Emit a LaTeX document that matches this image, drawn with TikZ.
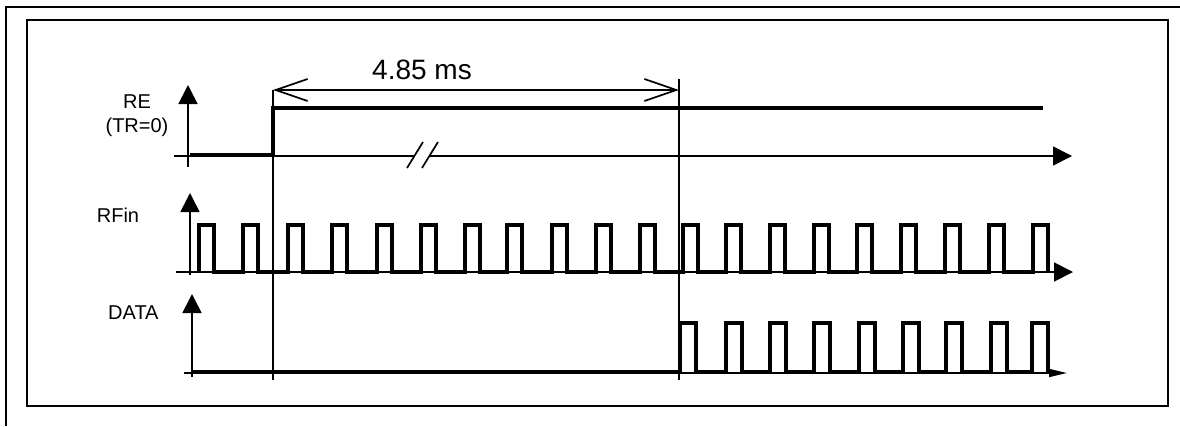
\documentclass[tikz,border=0pt]{standalone}
\usepackage{fontspec}
\setmainfont{Liberation Sans}
\usetikzlibrary{arrows.meta}
\begin{document}
\begin{tikzpicture}[x=1pt,y=-1pt,
  frame/.style={line width=2pt},
  axis/.style={line width=1.7pt,-{Triangle[length=19pt,width=19pt]}},
  thinaxis/.style={line width=1.7pt,-{Triangle[length=18pt,width=8pt]}},
  sig/.style={line width=4pt,line join=miter,line cap=butt},
  marker/.style={line width=1.7pt},
  dim/.style={line width=1.5pt,{Straight Barb[length=32pt,width=22pt,line width=1.7pt]}-{Straight Barb[length=32pt,width=22pt,line width=1.7pt]}},
  lbl/.style={font=\fontsize{20}{24}\selectfont,inner sep=0pt},
  biglbl/.style={font=\fontsize{28}{32}\selectfont,inner sep=0pt}]
\useasboundingbox (0,0) rectangle (1180,426);
% frames
\draw[frame] (6,426) -- (6,7) -- (1180,7);
\draw[frame] (27,19.5) rectangle (1168,406);
% coordinates
\coordinate (t0) at (273,90);
\coordinate (t1) at (679,90);
% labels
\node[lbl] (re) at (137,102) {RE};
\node[lbl] (tr) at (137,127) {(TR=0)};
\node[lbl] (rfin) at (118,215) {RFin};
\node[lbl,anchor=west] (data) at (108,313) {DATA};
% RE axis
\coordinate (reO) at (188,167);
\coordinate (reT) at (188,85);
\draw[axis] (reO) -- (reT);
\coordinate (reL) at (174,156);
\coordinate (reB1) at (415,156);
\coordinate (reB2) at (430,156);
\coordinate (reE) at (1072,156);
\draw[marker] (reL) -- (reB1);
\draw[axis] (reB2) -- (reE);
\draw[line width=1.7pt] (407,168) -- (423,142) (422,168) -- (438,142);
\draw[sig] (190,155) -- (273,155) -- (273,108) -- (1043,108);
% RFin axis
\draw[axis] (190,275) -- (190,193);
\draw[axis] (176,272) -- (1073,272);
\draw[sig] (199,272)
  \foreach \r in {199,243,288,332,377,421,465,507,552,596,640,683,726,770,814,857,901,945,989,1033}
  { -- (\r,272) -- (\r,225) -- ({\r+15},225) -- ({\r+15},272) };
% DATA axis
\draw[axis] (192,377) -- (192,294);
\draw[thinaxis] (184,373) -- (1067,373);
\draw[sig] (192,372) -- (680,372)
  \foreach \r in {680,726,770,814,859,903,946,991,1032}
  { -- (\r,372) -- (\r,323) -- ({\r+16},323) -- ({\r+16},372) };
% markers
\draw[marker] (273,90) -- (273,380);
\draw[marker] (679,79) -- (679,380);
% dimension
\draw[dim] (t0) -- (t1);
\node[biglbl] (dimlbl) at (422,70) {4.85 ms};
\end{tikzpicture}
\end{document}
